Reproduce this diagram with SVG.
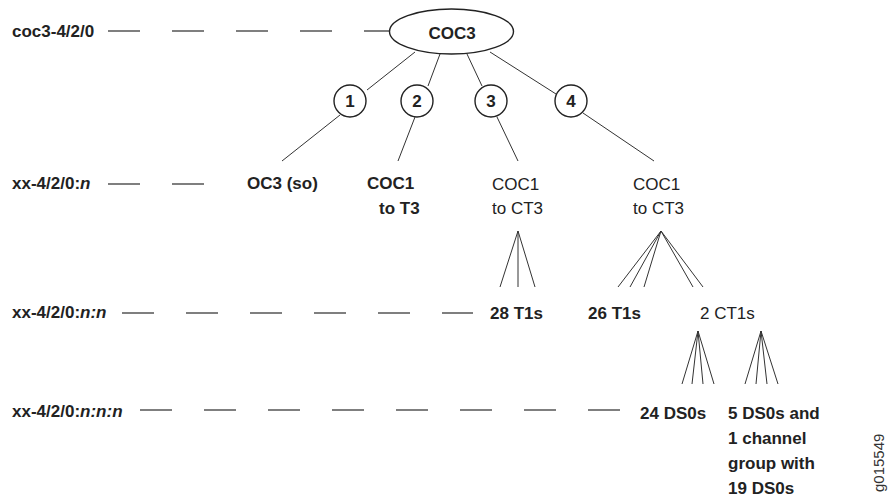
<svg xmlns="http://www.w3.org/2000/svg" width="889" height="498" viewBox="0 0 889 498">
<style>
text{font-family:"Liberation Sans",Arial,sans-serif;font-size:17px;fill:#222}
.b{font-weight:bold}
.i{font-style:italic}
.m{text-anchor:middle}
.dash{stroke:#555;stroke-width:1.3;stroke-dasharray:32 32;fill:none}
.ln{stroke:#333;stroke-width:1;fill:none}
.shape{fill:#fff;stroke:#222;stroke-width:1.4}
</style>
<rect width="889" height="498" fill="#fff"/>
<g id="levels">
<text class="b" x="12" y="37">coc3-4/2/0</text>
<text class="b" x="12" y="189">xx-4/2/0:<tspan class="i">n</tspan></text>
<text class="b" x="12" y="318">xx-4/2/0:<tspan class="i">n:n</tspan></text>
<text class="b" x="12" y="417">xx-4/2/0:<tspan class="i">n:n:n</tspan></text>
<line class="dash" x1="108" y1="31" x2="390" y2="31"/>
<line class="dash" x1="108" y1="184" x2="204" y2="184"/>
<line class="dash" x1="122" y1="313" x2="473" y2="313"/>
<line class="dash" x1="140" y1="410" x2="620" y2="410"/>
</g>
<g id="connectors">
<line class="ln" x1="415" y1="52" x2="367" y2="90"/>
<line class="ln" x1="440" y1="54" x2="428" y2="86"/>
<line class="ln" x1="467" y1="54" x2="482" y2="86"/>
<line class="ln" x1="490" y1="52" x2="556" y2="94"/>
<line class="ln" x1="340" y1="115" x2="282" y2="161"/>
<line class="ln" x1="415" y1="117" x2="398" y2="161"/>
<line class="ln" x1="497" y1="117" x2="518" y2="161"/>
<line class="ln" x1="583" y1="113" x2="654" y2="161"/>
<line class="ln" x1="518" y1="231" x2="500" y2="287"/>
<line class="ln" x1="518" y1="231" x2="518" y2="287" stroke="#777"/>
<line class="ln" x1="518" y1="231" x2="535" y2="287"/>
<line class="ln" x1="661" y1="231" x2="618" y2="287" stroke-width="1.6"/>
<line class="ln" x1="661" y1="231" x2="630" y2="287"/>
<line class="ln" x1="661" y1="231" x2="644" y2="287"/>
<line class="ln" x1="661" y1="231" x2="693" y2="287"/>
<line class="ln" x1="661" y1="231" x2="703" y2="287"/>
<line class="ln" x1="698" y1="331" x2="682" y2="384"/>
<line class="ln" x1="698" y1="331" x2="692" y2="384"/>
<line class="ln" x1="698" y1="331" x2="703" y2="384"/>
<line class="ln" x1="698" y1="331" x2="714" y2="384"/>
<line class="ln" x1="761" y1="331" x2="745" y2="384"/>
<line class="ln" x1="761" y1="331" x2="756" y2="384"/>
<line class="ln" x1="761" y1="331" x2="767" y2="384"/>
<line class="ln" x1="761" y1="331" x2="778" y2="384"/>
</g>
<g id="coc3">
<ellipse class="shape" cx="451.5" cy="31.5" rx="62" ry="22.5"/>
<text class="b m" x="452" y="38.5">COC3</text>
</g>
<g id="c1"><circle class="shape" cx="350" cy="101" r="16"/><text class="b m" x="350" y="107">1</text></g>
<g id="c2"><circle class="shape" cx="417" cy="101" r="16"/><text class="b m" x="417" y="107">2</text></g>
<g id="c3"><circle class="shape" cx="491" cy="101" r="16"/><text class="b m" x="491" y="107">3</text></g>
<g id="c4"><circle class="shape" cx="571" cy="101" r="16"/><text class="b m" x="571" y="107">4</text></g>
<g id="oc3"><text class="b" x="247" y="189">OC3 (so)</text></g>
<g id="coc1-t3"><text class="b" x="367" y="189">COC1</text><text class="b" x="379" y="214">to T3</text></g>
<g id="coc1-ct3-a"><text x="492" y="190">COC1</text><text x="492" y="214">to CT3</text></g>
<g id="coc1-ct3-b"><text x="633" y="190">COC1</text><text x="633" y="214">to CT3</text></g>
<g id="t1s-28"><text class="b" x="490" y="319">28 T1s</text></g>
<g id="t1s-26"><text class="b" x="588" y="319">26 T1s</text></g>
<g id="ct1s"><text x="700" y="319">2 CT1s</text></g>
<g id="ds0-24"><text class="b" x="640" y="419">24 DS0s</text></g>
<g id="ds0-group"><text class="b" x="728" y="419">5 DS0s and</text><text class="b" x="728" y="444">1 channel</text><text class="b" x="728" y="469">group with</text><text class="b" x="728" y="494">19 DS0s</text></g>
<text x="884" y="492" transform="rotate(-90 884 492)" style="font-size:15px;fill:#333">g015549</text>
</svg>
